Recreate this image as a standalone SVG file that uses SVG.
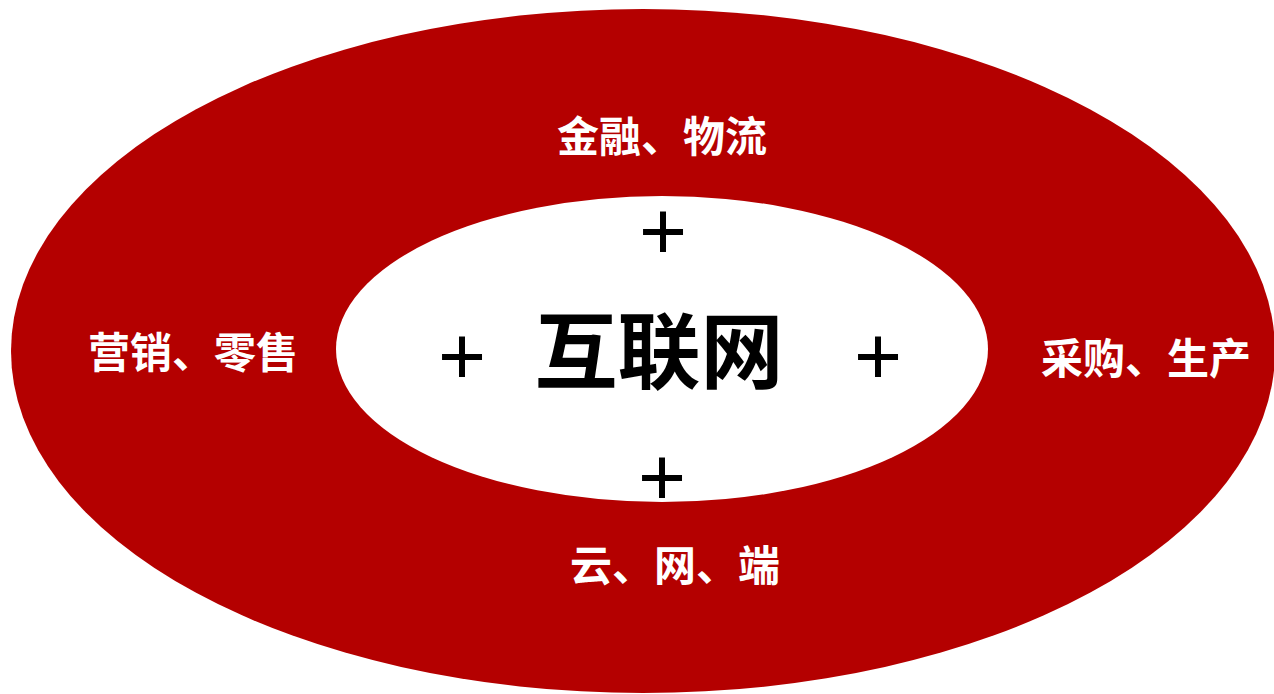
<svg xmlns="http://www.w3.org/2000/svg" width="1274" height="694" viewBox="0 0 1274 694">
  <style>
    .lbl { font-family: "Liberation Sans", "Noto Sans CJK SC", sans-serif; font-size: 42px; font-weight: bold; fill: #ffffff; text-anchor: middle; dominant-baseline: central; }
    .core { font-family: "Liberation Serif", "Noto Sans CJK SC", serif; font-size: 83px; font-weight: bold; fill: #000000; text-anchor: middle; dominant-baseline: central; }
    .plus { font-family: "Liberation Serif", serif; font-size: 86px; font-weight: bold; fill: #000000; text-anchor: middle; }
  </style>
  <rect width="1274" height="694" fill="#ffffff"/>
  <g id="outer">
    <ellipse cx="643" cy="351" rx="632" ry="342" fill="#b40000"/>
  </g>
  <g id="inner">
    <ellipse cx="662" cy="349" rx="326" ry="153" fill="#ffffff"/>
    <text class="core" x="659" y="354">互联网</text>
  </g>
  <g id="pluses">
    <text class="plus" x="663" y="261">+</text>
    <text class="plus" x="462" y="386">+</text>
    <text class="plus" x="878" y="386">+</text>
    <text class="plus" x="662" y="507">+</text>
  </g>
  <g id="label-top"><text class="lbl" x="662" y="137">金融、物流</text></g>
  <g id="label-left"><text class="lbl" x="193" y="353">营销、零售</text></g>
  <g id="label-right"><text class="lbl" x="1146" y="359">采购、生产</text></g>
  <g id="label-bottom"><text class="lbl" x="675" y="566">云、网、端</text></g>
</svg>
